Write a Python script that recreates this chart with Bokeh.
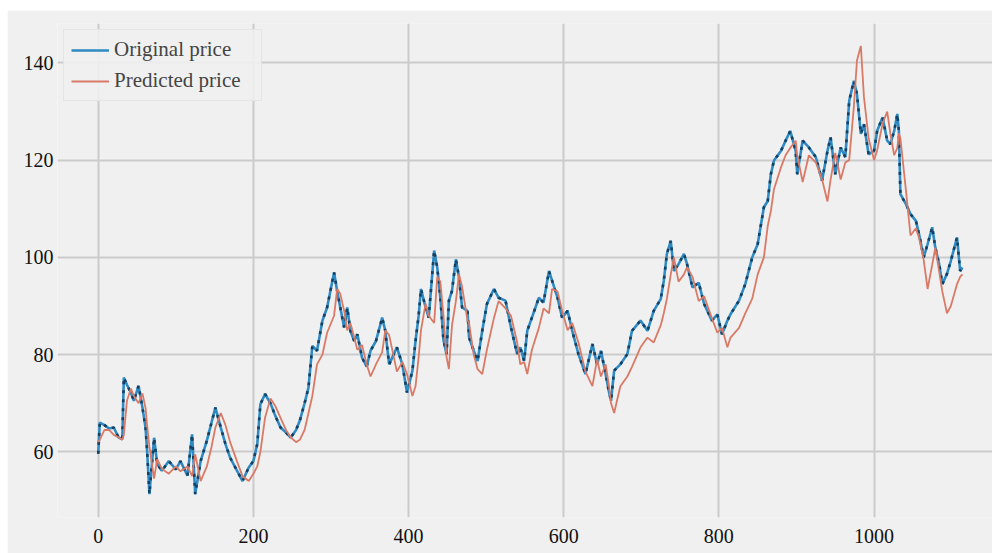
from bokeh.plotting import figure
from bokeh.models import ColumnDataSource, Range1d, FixedTicker, Legend, LegendItem
from bokeh.embed import file_html
from bokeh.resources import INLINE

# ---- data ----
day = [0, 2, 8, 14, 20, 26, 31, 33, 37, 42, 46, 52, 57, 61, 63, 66, 72, 76, 82, 91,
       100, 106, 115, 121, 125, 132, 140, 146, 151, 158, 164, 170, 179, 186, 194, 200,
       205, 209, 215, 222, 228, 235, 242, 248, 255, 260, 266, 271, 276, 282, 289, 295,
       304, 308, 312, 317, 321, 325, 330, 334, 340, 346, 351, 358, 366, 370, 375, 385,
       392, 398, 405, 409, 413, 416, 422, 426, 433, 437, 441, 445, 449, 452, 456, 461,
       465, 469, 476, 478, 484, 489, 495, 501, 510, 516, 525, 532, 540, 544, 549, 553,
       559, 568, 574, 581, 585, 592, 598, 605, 611, 619, 628, 637, 643, 648, 654, 658,
       661, 665, 673, 682, 688, 699, 708, 716, 725, 729, 733, 738, 742, 748, 755, 759,
       766, 774, 781, 791, 798, 804, 811, 815, 826, 834, 843, 850, 858, 863, 867, 871,
       880, 886, 892, 899, 901, 908, 916, 925, 933, 940, 944, 950, 957, 963, 968, 974,
       978, 983, 987, 993, 1000, 1004, 1011, 1017, 1021, 1026, 1030, 1032, 1034, 1041,
       1047, 1054, 1058, 1064, 1069, 1075, 1079, 1084, 1088, 1094, 1099, 1107, 1111, 1114]

original_price = [59.6, 66.0, 65.5, 64.8, 65.0, 63.0, 62.6, 75.3, 73.8, 72.2, 70.5, 73.6, 69.1, 65.0, 60.2, 51.3, 62.9, 57.5, 56.1, 58.1,
                  56.4, 58.1, 55.1, 63.6, 51.3, 58.1, 62.3, 66.0, 69.1, 65.0, 61.6, 58.8, 56.1, 54.0, 56.8, 58.1,
                  61.6, 69.8, 71.9, 70.0, 67.5, 65.0, 64.0, 62.9, 64.5, 66.5, 70.0, 73.2, 81.8, 80.8, 87.0, 89.7,
                  96.9, 93.1, 89.7, 85.6, 89.7, 84.9, 82.8, 84.2, 79.4, 77.5, 80.8, 82.8, 87.6, 84.9, 78.0, 81.5,
                  78.0, 72.2, 76.7, 82.8, 88.0, 93.5, 89.7, 87.6, 101.4, 97.9, 91.7, 83.0, 80.1, 91.1, 93.1, 99.6,
                  95.9, 89.7, 89.0, 83.5, 80.8, 78.7, 84.9, 90.4, 93.5, 91.7, 91.1, 85.6, 80.1, 81.5, 78.7, 84.9,
                  87.6, 91.7, 90.7, 97.2, 95.2, 91.7, 87.6, 89.0, 84.9, 80.1, 76.0, 82.2, 78.0, 80.8, 76.0, 72.6,
                  70.5, 76.7, 78.0, 80.1, 84.9, 87.0, 84.9, 89.0, 91.4, 95.2, 100.7, 103.4, 97.2, 98.6, 100.7, 98.6,
                  93.8, 94.8, 90.4, 87.0, 88.3, 84.2, 87.0, 88.3, 91.1, 94.5, 100.0, 102.7, 110.3, 111.6, 117.1, 119.9,
                  121.9, 124.0, 126.0, 121.9, 117.1, 124.0, 122.6, 120.6, 115.8, 121.9, 124.7, 117.1, 122.6, 120.6, 132.2, 136.3,
                  133.6, 125.4, 127.4, 121.2, 121.9, 126.0, 128.8, 124.0, 123.3, 126.0, 129.5, 126.0, 113.0, 111.0,
                  108.9, 107.5, 104.8, 100.0, 102.7, 106.2, 102.0, 98.6, 94.5, 96.6, 99.3, 104.1, 97.2, 97.9]

predicted_price = [62.0, 62.5, 64.5, 64.5, 63.5, 63.0, 62.5, 63.5, 70.5, 73.0, 71.5, 70.0, 72.0, 69.0, 65.5, 61.0, 54.5, 58.5, 56.5, 55.5,
                   57.0, 56.0, 57.0, 55.0, 59.5, 54.0, 57.0, 61.0, 65.0, 68.0, 65.5, 62.0, 58.0, 55.0, 54.0, 55.5,
                   57.0, 60.0, 67.0, 71.0, 69.5, 67.0, 64.5, 63.0, 62.0, 62.5, 64.5, 68.0, 71.5, 78.0, 80.0, 84.5,
                   88.0, 93.5, 92.5, 89.0, 85.0, 86.5, 83.5, 81.0, 82.0, 78.0, 75.5, 78.0, 80.5, 85.0, 84.0, 76.5,
                   78.5, 76.0, 71.5, 73.5, 79.5, 85.0, 90.5, 88.0, 86.5, 96.0, 95.0, 88.0, 79.5, 77.0, 86.0, 91.0,
                   96.5, 94.0, 87.0, 86.5, 80.0, 77.0, 76.0, 81.0, 87.5, 91.0, 89.5, 88.0, 82.5, 78.0, 78.5, 76.0,
                   81.0, 85.5, 89.5, 88.5, 93.5, 93.0, 89.0, 85.0, 86.5, 82.5, 76.5, 73.5, 79.0, 75.5, 78.0, 74.0,
                   70.0, 68.0, 73.5, 75.5, 77.5, 81.5, 83.5, 82.5, 86.0, 88.5, 91.5, 96.5, 100.0, 95.0, 96.5, 98.0,
                   96.0, 91.0, 92.0, 87.5, 84.5, 85.5, 81.5, 83.5, 85.5, 88.5, 91.5, 96.5, 100.0, 106.5, 109.5, 114.0,
                   118.5, 121.0, 122.5, 124.0, 121.0, 115.5, 121.0, 119.5, 116.0, 111.5, 116.0, 121.5, 116.0, 119.5, 120.0, 131.0,
                   140.5, 143.5, 133.0, 124.5, 120.0, 122.0, 127.5, 130.0, 125.5, 121.0, 122.5, 125.5, 124.5, 114.0,
                   104.5, 106.0, 104.0, 99.5, 93.5, 98.5, 102.0, 97.0, 93.0, 88.5, 90.0, 94.5, 96.0, 96.5]

x_ticks = [0, 200, 400, 600, 800, 1000]
y_ticks = [60, 80, 100, 120, 140]

BG = "#f0f0f0"
FONT = "Liberation Serif"

src = ColumnDataSource(data=dict(day=day, orig=original_price, pred=predicted_price))

p = figure(width=985, height=543, output_backend="svg", toolbar_location=None,
           x_range=Range1d(-52.5, 1152.7), y_range=Range1d(46.5, 148.1),
           min_border_left=50, min_border_right=0, min_border_top=13, min_border_bottom=36)
p.margin = (10, 0, 0, 7)
p.background_fill_color = BG
p.border_fill_color = BG
p.outline_line_color = None

for ax in (p.xaxis, p.yaxis):
    ax.axis_line_color = None
    ax.major_tick_line_color = None
    ax.minor_tick_line_color = None
    ax.major_tick_in = 0
    ax.major_tick_out = 0
    ax.minor_tick_in = 0
    ax.minor_tick_out = 0
    ax.major_label_text_font = FONT
    ax.major_label_text_font_size = "20px"
    ax.major_label_text_color = "#111111"
p.xaxis.ticker = FixedTicker(ticks=x_ticks)
p.yaxis.ticker = FixedTicker(ticks=y_ticks)
p.xaxis.major_label_standoff = 11
p.yaxis.major_label_standoff = 4

p.xgrid.ticker = FixedTicker(ticks=x_ticks)
p.ygrid.ticker = FixedTicker(ticks=y_ticks)
p.grid.grid_line_color = "#cbcbcb"
p.grid.grid_line_width = 2

r_orig = p.line("day", "orig", source=src, line_color="#2f8ac4", line_width=2.6)
p.line("day", "orig", source=src, line_color="#15405f", line_width=2.6, line_dash="3 6")
r_pred = p.line("day", "pred", source=src, line_color="#d97a66", line_width=1.8)

legend = Legend(items=[LegendItem(label="Original price", renderers=[r_orig]),
                       LegendItem(label="Predicted price", renderers=[r_pred])],
                location="top_left", margin=6, padding=7, spacing=6,
                label_standoff=5, glyph_width=38, glyph_height=22, label_height=22,
                label_width=140,
                label_text_font=FONT, label_text_font_size="21px",
                background_fill_color=BG, background_fill_alpha=0.9,
                border_line_color="#dadada", border_line_width=1)
p.add_layout(legend)

open("out.html", "w").write(file_html(p, INLINE))
